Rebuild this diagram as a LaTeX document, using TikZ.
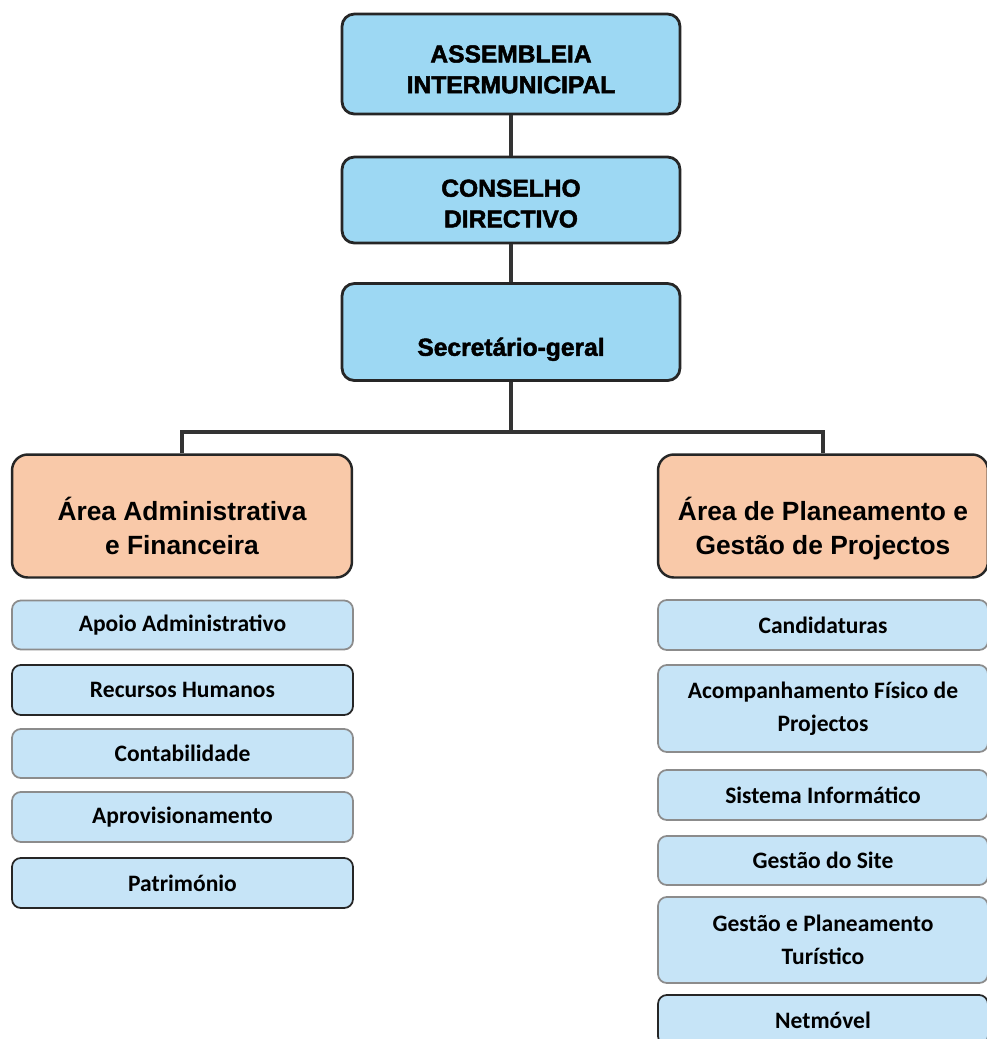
\documentclass[tikz,border=0pt]{standalone}
\usepackage{fontspec}
\setmainfont{Liberation Sans}
\newfontfamily\heavy{Liberation Sans}[BoldFeatures={FakeBold=2}]
\newfontfamily\calib{Carlito}
\definecolor{topblue}{HTML}{9DD8F3}
\definecolor{subblue}{HTML}{C6E4F7}
\definecolor{areaorange}{HTML}{F9C9A9}
% two lines, pushed down by a strut in the first one
\newcommand{\boxlines}[3]{\begin{tabular}{@{}c@{}}\rule{0pt}{#1}#2\\#3\end{tabular}}
\begin{document}
\begin{tikzpicture}[x=0.02cm,y=-0.02cm,
  head/.style={draw=black!85,line width=1.6pt,rounded corners=7pt,fill=topblue,
    minimum width=6.76cm,font=\heavy\bfseries\fontsize{14}{17.5}\selectfont},
  area/.style={draw=black!85,line width=1.4pt,rounded corners=9pt,fill=areaorange,
    minimum height=2.46cm,font=\bfseries\fontsize{15}{19}\selectfont},
  unit/.style={draw=black!45,line width=1pt,rounded corners=5pt,fill=subblue,
    align=center,font=\calib\bfseries\fontsize{13.4}{19}\selectfont},
  drop/.style={execute at begin node=\rule{0pt}{#1}},
  link/.style={draw=black!80,line width=2.6pt}]
  \useasboundingbox (0,0) rectangle (987,1039);
  % direccao
  \node [head,minimum height=2cm] (asm) at (511,64) {\boxlines{21pt}{ASSEMBLEIA}{INTERMUNICIPAL}};
  \node [head,minimum height=1.72cm] (con) at (511,200) {\boxlines{19pt}{CONSELHO}{DIRECTIVO}};
  \node [head,drop=30pt,minimum height=1.94cm] (sec) at (511,332) {Secretário-geral};
  \coordinate (j) at (511,432);
  \draw [link] (asm) -- (con);
  \draw [link] (con) -- (sec);
  \draw [link] (sec) -- (j);
  % areas
  \node [area,minimum width=6.8cm] (adm) at (182,516) {\boxlines{30pt}{Área Administrativa}{e Financeira}};
  \node [area,minimum width=6.6cm] (plan) at (823,516) {\boxlines{30pt}{Área de Planeamento e}{Gestão de Projectos}};
  \draw [link] (adm.north) |- (j) -| (plan.north);
  % unidades da area administrativa
  \node [unit,minimum width=6.82cm,minimum height=0.98cm] (apoio) at (182.5,625) {Apoio Administrativo};
  \node [unit,draw=black!85,minimum width=6.82cm,minimum height=1cm] (rh) at (182.5,690) {Recursos Humanos};
  \node [unit,minimum width=6.82cm,minimum height=0.98cm] (cont) at (182.5,753.5) {Contabilidade};
  \node [unit,minimum width=6.82cm,minimum height=1cm] (aprov) at (182.5,817) {Aprovisionamento};
  \node [unit,draw=black!85,minimum width=6.82cm,minimum height=1cm] (patr) at (182.5,883) {Património};
  % unidades da area de planeamento
  \node [unit,minimum width=6.6cm,minimum height=1cm] (cand) at (823,625) {Candidaturas};
  \node [unit,minimum width=6.6cm,minimum height=1.74cm] (acomp) at (823,708.5) {Acompanhamento Físico de\\Projectos};
  \node [unit,minimum width=6.6cm,minimum height=1cm] (sist) at (823,795) {Sistema Informático};
  \node [unit,minimum width=6.6cm,minimum height=0.98cm] (site) at (823,860.5) {Gestão do Site};
  \node [unit,minimum width=6.6cm,minimum height=1.72cm] (tur) at (823,940) {Gestão e Planeamento\\Turístico};
  \node [unit,draw=black!85,minimum width=6.6cm,minimum height=1cm] (net) at (823,1020) {Netmóvel};
\end{tikzpicture}
\end{document}
